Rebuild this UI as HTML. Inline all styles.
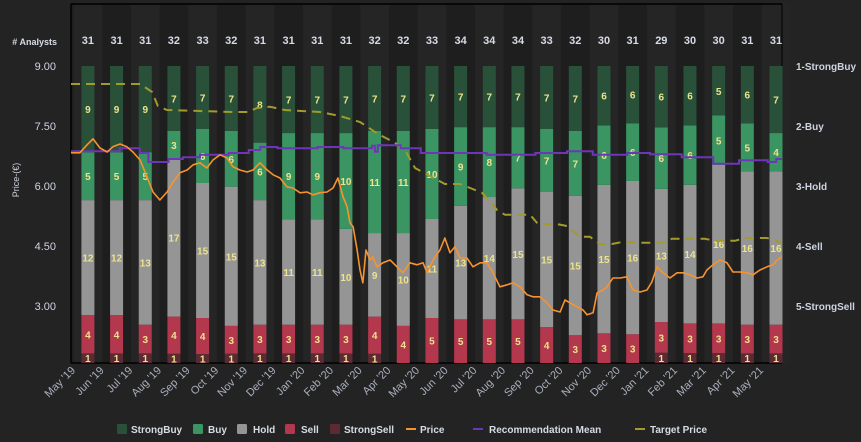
<!DOCTYPE html>
<html><head><meta charset="utf-8"><style>
body{margin:0;background:#232323;font-family:"Liberation Sans",sans-serif;}
svg{display:block}
</style></head><body>
<svg id="chart" width="861" height="442" xmlns="http://www.w3.org/2000/svg">
<rect x="0" y="0" width="861" height="442" fill="#232323"/>
<g id="bands"></g><g id="bars"></g><g id="lines"></g><g id="axes"></g><g id="legend"></g>
</svg>
<script>
const months=["May '19","Jun '19","Jul '19","Aug '19","Sep '19","Oct '19","Nov '19","Dec '19","Jan '20","Feb '20","Mar '20","Apr '20","May '20","Jun '20","Jul '20","Aug '20","Sep '20","Oct '20","Nov '20","Dec '20","Jan '21","Feb '21","Mar '21","Apr '21","May '21"];
const strongBuy=[9,9,9,7,7,7,8,7,7,7,7,7,7,7,7,7,7,7,6,6,6,6,5,6,7];
const buy=[5,5,5,3,6,6,6,9,9,10,11,11,10,9,8,7,7,7,6,6,6,6,5,5,4];
const hold=[12,12,13,17,15,15,13,11,11,10,9,10,11,13,14,15,15,15,15,16,13,14,16,16,16];
const sell=[4,4,3,4,4,3,3,3,3,3,4,4,5,5,5,5,4,3,3,3,3,3,3,3,3];
const strongSell=[1,1,1,1,1,1,1,1,1,1,1,0,0,0,0,0,0,0,0,0,1,1,1,1,1];
const priceTicks=[9.00,7.50,6.00,4.50,3.00];
const recLabels=["1-StrongBuy","2-Buy","3-Hold","4-Sell","5-StrongSell"];
const priceT=[0,.31,.56,.77,1.01,1.26,1.46,1.71,1.95,2.16,2.41,2.65,2.86,3.10,3.35,3.56,3.80,4.05,4.26,4.50,4.74,4.95,5.20,5.44,5.65,5.89,6.14,6.35,6.59,6.84,7.05,7.29,7.53,7.74,7.99,8.23,8.44,8.68,8.93,9.14,9.31,9.49,9.63,9.73,9.84,9.98,10.08,10.18,10.29,10.43,10.53,10.67,10.88,11.13,11.37,11.58,11.82,12.07,12.28,12.42,12.63,12.87,13.04,13.22,13.39,13.57,13.81,14.02,14.27,14.51,14.72,14.96,15.21,15.42,15.66,15.91,16.11,16.36,16.60,16.81,17.06,17.23,17.40,17.65,17.86,18.00,18.21,18.35,18.56,18.70,18.90,19.15,19.39,19.60,19.85,20.09,20.26,20.44,20.65,20.89,21.14,21.35,21.59,21.84,22.04,22.18,22.39,22.64,22.88,23.09,23.33,23.58,23.79,24.03,24.28,24.49,24.63,24.80];
const priceV=[6.83,6.83,7.03,7.18,6.95,6.85,6.98,7.05,6.98,6.85,6.65,6.23,5.85,5.65,5.85,6.10,6.33,6.40,6.53,6.58,6.45,6.65,6.78,6.70,6.48,6.40,6.35,6.40,6.58,6.40,6.28,6.20,5.98,5.95,5.83,5.85,5.78,5.83,5.85,5.95,6.20,5.73,5.48,5.08,4.98,4.40,3.90,3.58,4.40,4.15,4.23,3.98,4.08,4.15,3.98,3.83,4.08,4.03,4.08,3.83,4.15,4.40,4.70,4.33,4.48,4.20,4.20,3.98,4.08,4.08,3.83,3.48,3.53,3.58,3.48,3.28,3.23,3.23,3.08,2.90,2.85,3.15,3.08,2.98,2.90,2.78,2.83,3.33,3.40,3.48,3.70,3.70,3.73,3.40,3.35,3.40,3.60,3.98,3.83,3.70,3.83,3.83,3.78,3.70,3.73,3.90,4.03,4.15,4.08,3.85,3.85,3.83,3.78,3.90,3.98,4.03,4.15,4.23];
const recT=[0,1.7,2.4,2.7,3.4,3.9,4.5,5.5,6.2,6.6,7.2,8.6,9.5,10.5,10.6,10.7,11.5,12.2,14.5,16.2,17.3,18.2,19.4,20.2,21.3,22.4,23.3,24.3,24.6,24.8];
const recV=[2.42,2.37,2.45,2.6,2.55,2.52,2.48,2.45,2.40,2.35,2.37,2.35,2.37,2.33,2.43,2.32,2.37,2.45,2.48,2.45,2.42,2.48,2.45,2.47,2.52,2.63,2.57,2.6,2.55,2.55];
const targetT=[0,2.41,2.83,3.03,3.35,5.65,6.17,6.49,6.94,7.46,8.68,9.38,10.08,10.71,11.30,11.65,12.0,12.52,13.04,13.57,13.92,14.34,14.86,15.14,16.01,16.29,16.95,17.3,17.75,18.1,18.45,18.87,19.22,19.85,20.65,20.96,22.11,22.46,23.16,23.51,24.28,24.8];
const targetV=[8.55,8.55,8.35,8.0,7.9,7.85,7.85,7.95,7.98,7.9,7.85,7.75,7.6,7.3,7.08,6.9,6.45,6.25,6.05,6.05,5.95,5.83,5.4,5.28,5.28,5.05,5.05,5.0,4.73,4.73,4.55,4.55,4.6,4.58,4.58,4.68,4.68,4.63,4.63,4.7,4.7,4.58];

const NS="http://www.w3.org/2000/svg";
const L=71,R=782,T=4,B=363,SLOT=28.67,BW=13,BAR_TOP=66;
const xT=t=>L+t*SLOT;
const xBar=i=>xT(i+0.59);
const yP=v=>66+(9-v)*40;
const yR=r=>66+(r-1)*60;
function mk(tag,attrs,parent){const e=document.createElementNS(NS,tag);for(const k in attrs)e.setAttribute(k,attrs[k]);parent.appendChild(e);return e;}
const gBands=document.getElementById('bands'),gBars=document.getElementById('bars'),gLines=document.getElementById('lines'),gAxes=document.getElementById('axes'),gLeg=document.getElementById('legend');

mk('rect',{x:L,y:T,width:R-L,height:B-T,fill:'#1e1e1e'},gBands);
for(let i=0;i<months.length;i++){
  if(i%2===0){const b=mk('rect',{x:xBar(i)-SLOT/2,y:T,width:SLOT,height:B-T,fill:'#252525'},gBands);
  
  }
}
mk('line',{x1:L,y1:T,x2:R,y2:T,stroke:'#000','stroke-width':1.5},gBands);
mk('line',{x1:L,y1:T,x2:L,y2:B,stroke:'#000','stroke-width':1.5},gBands);
mk('line',{x1:R,y1:T,x2:R,y2:B,stroke:'#000','stroke-width':1},gBands);
mk('line',{x1:L,y1:B,x2:R,y2:B,stroke:'#000','stroke-width':1.5},gBands);

const series=[[strongSell,'#5c2a33','strong-sell'],[sell,'#b3374d','sell'],[hold,'#959595','hold'],[buy,'#3a9562','buy'],[strongBuy,'#29513a','strong-buy']];
for(let i=0;i<months.length;i++){
  const tot=strongBuy[i]+buy[i]+hold[i]+sell[i]+strongSell[i];
  let y=B;const H=B-BAR_TOP;
  for(const [arr,col,nm] of series){
    const h=arr[i]/tot*H;
    if(arr[i]>0){
      const r=mk('rect',{x:xBar(i)-BW/2,y:y-h,width:BW,height:h,fill:col},gBars);
      
      
      const tx=mk('text',{x:xBar(i),y:y-h/2+4,'text-anchor':'middle','font-size':10,'font-weight':'bold',fill:'#ece38c'},gBars);
      tx.textContent=arr[i];
      
      
    }
    y-=h;
  }
  const at=mk('text',{x:xBar(i),y:44,'text-anchor':'middle','font-size':11,'font-weight':'bold',fill:'#d6dbe6'},gAxes);
  at.textContent=tot;
  
  
  const xl=mk('text',{x:0,y:0,'text-anchor':'end','font-size':11,fill:'#a9b0bd',transform:`translate(${xBar(i)-12},${B+8}) rotate(-45)`},gAxes);
  xl.textContent=months[i];
  
  
}
function path(ts,vs,yf,step){let d='';for(let k=0;k<ts.length;k++){const x=xT(ts[k]),y=yf(vs[k]);if(k===0)d+=`M${x},${y}`;else if(step)d+=`H${x}V${y}`;else d+=`L${x},${y}`;}return d;}
const tp=mk('path',{d:path(targetT,targetV,yP,false),fill:'none',stroke:'#a39a2c','stroke-width':2,'stroke-dasharray':'9,6'},gLines);


const rp=mk('path',{d:path(recT,recV,yR,true),fill:'none',stroke:'#6d36b8','stroke-width':2},gLines);


const pp=mk('path',{d:path(priceT,priceV,yP,false),fill:'none',stroke:'#f7932e','stroke-width':1.6,'stroke-linejoin':'round'},gLines);



const ah=mk('text',{x:57,y:45,'text-anchor':'end','font-size':9,'font-weight':'bold',fill:'#d6dbe6'},gAxes);
ah.textContent='# Analysts';


for(const v of priceTicks){
  const t=mk('text',{x:56,y:yP(v)+4,'text-anchor':'end','font-size':11,fill:'#cdd3e0'},gAxes);
  t.textContent=v.toFixed(2);
  
  
}
recLabels.forEach((s,k)=>{
  const t=mk('text',{x:796,y:yR(k+1)+4,'font-size':10,'font-weight':'bold',fill:'#cdd3e0'},gAxes);
  t.textContent=s;
  
  
});
const yt=mk('text',{x:0,y:0,'text-anchor':'middle','font-size':9,fill:'#cdd3e0',transform:'translate(19,180) rotate(-90)'},gAxes);
yt.textContent='Price-(€)';



const leg=[['sw','#29513a',117,131,'StrongBuy'],['sw','#3a9562',193,208,'Buy'],['sw','#959595',237,253,'Hold'],['sw','#b3374d',285,301,'Sell'],['sw','#5c2a33',330,344,'StrongSell'],['ln','#f7932e',406,420,'Price'],['ln','#6d36b8',473,489,'Recommendation Mean'],['dl','#a39a2c',635,650,'Target Price']];
for(const [k,c,x,tx,s] of leg){
  const g=mk('g',{},gLeg);
  
  
  if(k==='sw'){mk('rect',{x:x,y:424,width:10,height:10,rx:1.5,fill:c},g);}
  else{mk('line',{x1:x,y1:429,x2:x+10,y2:429,stroke:c,'stroke-width':2},g);}
  const t=mk('text',{x:tx,y:433,'font-size':10,'font-weight':'bold',fill:'#d6dbe6'},g);
  t.textContent=s;
}
</script>
</body></html>
